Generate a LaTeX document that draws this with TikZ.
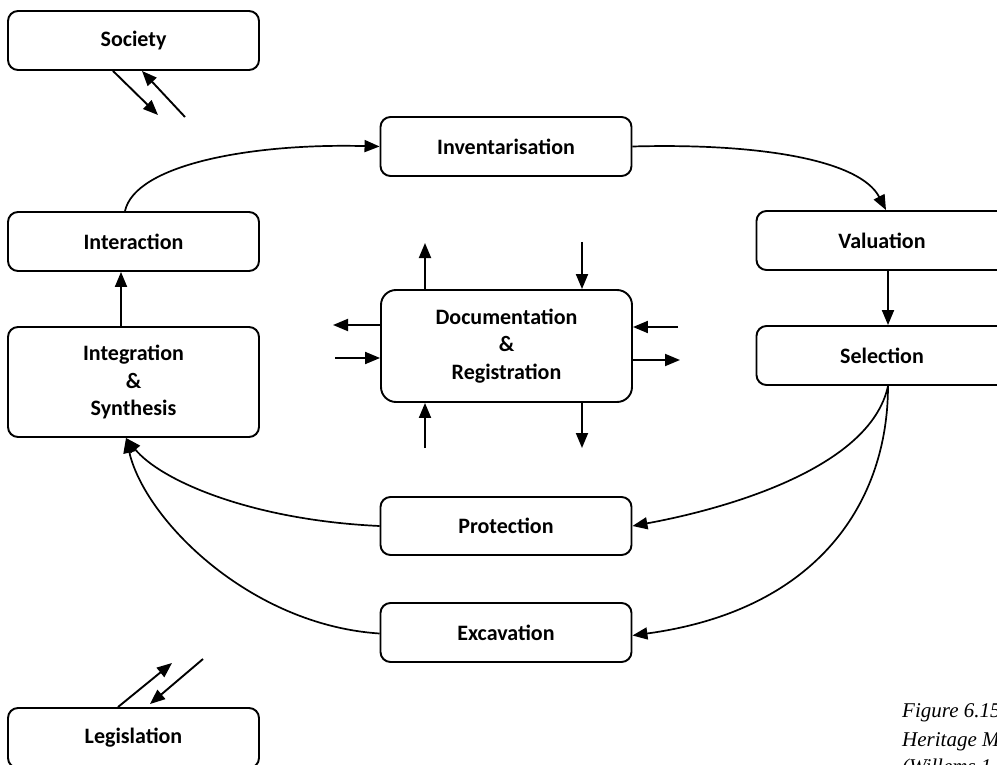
\documentclass[tikz,border=0pt]{standalone}
\usepackage{fontspec}
\newfontfamily\boxfont{Carlito}
\newfontfamily\capfont{Liberation Serif}
\usetikzlibrary{arrows.meta}
\begin{document}
\begin{tikzpicture}[x=1pt,y=-1pt,
  box/.style={draw,line width=1.9pt,rounded corners=10pt,minimum width=251pt,minimum height=59pt,inner sep=0pt,align=center,font=\boxfont\bfseries\fontsize{22}{27.5}\selectfont},
  bigbox/.style={box,rounded corners=15pt},
  arr/.style={line width=1.9pt,-{Triangle[length=15pt,width=12pt]}},
  carr/.style={line width=1.7pt,-{Triangle[length=15pt,width=12pt]}},
  captext/.style={anchor=base west,inner sep=0pt,font=\capfont\itshape\fontsize{21}{30}\selectfont}]
\useasboundingbox (0,0) rectangle (997,765);
\clip (0,0) rectangle (997,765);
\fill[white] (0,0) rectangle (997,765);
% nodes
\node[box] (soc) at (133.5,40.5) {Society};
\node[box] (inter) at (133.5,241.5) {Interaction};
\node[box,minimum height=110pt] (integ) at (133.5,382) {Integration\\\&\\Synthesis};
\node[box] (inv) at (506,146.5) {Inventarisation};
\node[box] (val) at (882,240.5) {Valuation};
\node[box] (sel) at (882,355.5) {Selection};
\node[bigbox,minimum height=112pt] (doc) at (506.5,346) {Documentation\\\&\\Registration};
\node[box,minimum height=58pt] (prot) at (506,526) {Protection};
\node[box] (exc) at (506,632.5) {Excavation};
\node[box,minimum height=60pt] (leg) at (133.5,738) {Legislation};
% caption
\node[captext] (cap1) at (902,717) {Figure 6.15};
\node[captext] (cap2) at (902,746) {Heritage M};
\node[captext] (cap3) at (902,773) {(Willems 1};
% society arrows
\coordinate (s1) at (158,115);
\coordinate (s2) at (185,117);
\draw[arr] ([xshift=-20.5pt]soc.south) -- (s1);
\draw[arr] (s2) -- ([xshift=8.5pt]soc.south);
% legislation arrows
\coordinate (l1) at (172,663);
\coordinate (l2) at (203,659);
\draw[arr] ([xshift=-15.5pt]leg.north) -- (l1);
\draw[arr] (l2) -- ([xshift=16.5pt,yshift=3pt]leg.north);
% straight arrows
\draw[arr] ([xshift=-12.5pt]integ.north) -- ([xshift=-12.5pt]inter.south);
\draw[arr] ([xshift=6pt]val.south) -- ([xshift=6pt]sel.north);
% documentation arrows
\coordinate (du) at (425,243);
\coordinate (dd) at (582,242);
\coordinate (dlo) at (333,325);
\coordinate (dli) at (335,358);
\coordinate (dri) at (678,327);
\coordinate (dro) at (680,360);
\coordinate (dbu) at (425,448);
\coordinate (dbd) at (582,448);
\draw[arr] (doc.north -| du) -- (du);
\draw[arr] (dd) -- (doc.north -| dd);
\draw[arr] (doc.west |- dlo) -- (dlo);
\draw[arr] (dli) -- (doc.west |- dli);
\draw[arr] (dri) -- (doc.east |- dri);
\draw[arr] (doc.east |- dro) -- (dro);
\draw[arr] (dbu) -- (doc.south -| dbu);
\draw[arr] (doc.south -| dbd) -- (dbd);
% curved connectors
\draw[carr] ([xshift=-8.5pt]inter.north) .. controls (135,165) and (250,143) .. (inv.west);
\draw[carr] (inv.east) .. controls (760,143) and (860,160) .. ([xshift=4pt]val.north);
\draw[carr] ([xshift=6pt]sel.south) .. controls (870,470) and (720,510) .. (prot.east);
\draw[carr] ([xshift=6pt]sel.south) .. controls (888,500) and (820,610) .. ([yshift=-3pt]exc.east);
\draw[carr] (prot.west) .. controls (250,520) and (160,480) .. ([xshift=-7.5pt]integ.south);
\draw[carr] ([yshift=-1pt]exc.west) .. controls (250,625) and (145,520) .. ([xshift=-7.5pt]integ.south);
\end{tikzpicture}
\end{document}
